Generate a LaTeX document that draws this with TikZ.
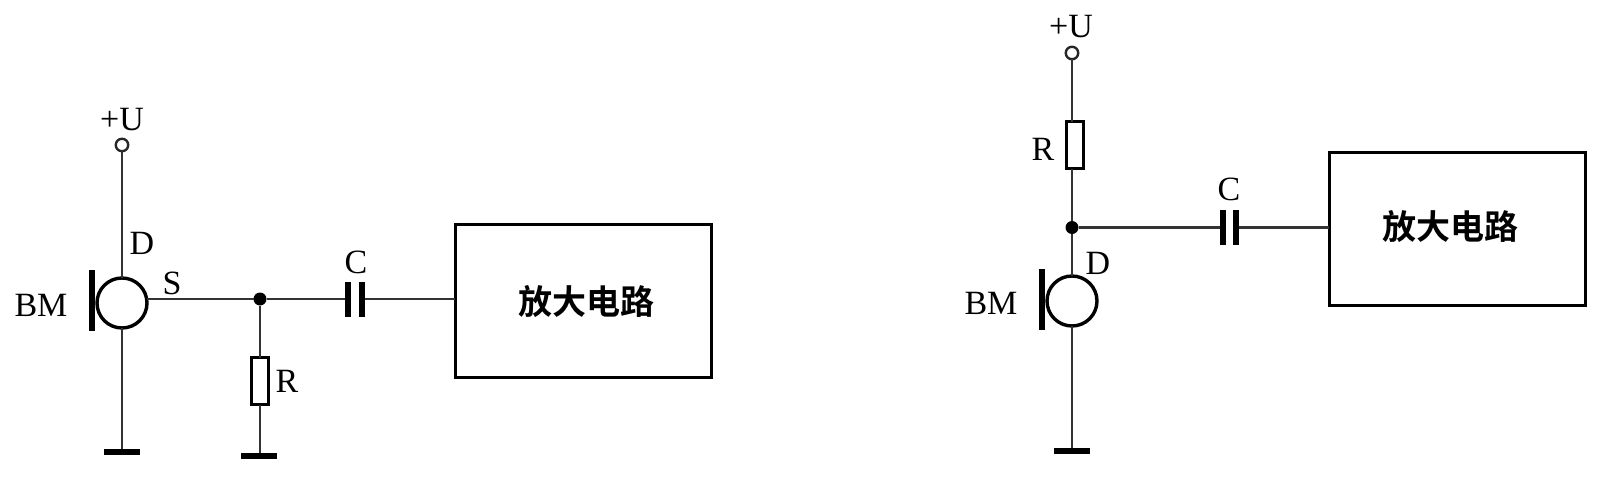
\documentclass[tikz,border=0pt]{standalone}
\usepackage{fontspec}
\setmainfont{Liberation Serif}
\newfontfamily\cjkfont{Noto Sans CJK SC}[BoldFont={Noto Sans CJK SC Bold}]
\tikzset{
  wire/.style={line width=2.4pt,draw=black!80},
  termnode/.style={circle,draw=black!85,line width=2.4pt,fill=white,minimum size=12.5pt,inner sep=0pt,outer sep=0pt},
  junction/.style={circle,fill=black,minimum size=13pt,inner sep=0pt,outer sep=0pt},
  micbody/.style={circle,draw=black,line width=3.4pt,minimum size=50pt,inner sep=0pt,outer sep=0pt},
  micbar/.style={rectangle,fill=black,minimum width=5.5pt,minimum height=61pt,inner sep=0pt,outer sep=0pt},
  gndbar/.style={rectangle,fill=black,minimum width=36pt,minimum height=6pt,inner sep=0pt,outer sep=0pt},
  capplate/.style={rectangle,fill=black,minimum width=5.5pt,minimum height=35pt,inner sep=0pt,outer sep=0pt},
  resbox/.style={rectangle,draw=black,line width=3pt,fill=white,minimum width=17pt,minimum height=47pt,inner sep=0pt,outer sep=0pt},
  ampbox/.style={rectangle,draw=black,line width=3pt,fill=white,minimum width=256pt,minimum height=153pt,inner sep=0pt,outer sep=0pt},
  lbl/.style={inner sep=0pt,outer sep=0pt,text=black,font=\fontsize{34}{34}\selectfont},
  amptext/.style={inner sep=0pt,outer sep=0pt,font=\cjkfont\bfseries\fontsize{34}{34}\selectfont}
}
\begin{document}
\begin{tikzpicture}[x=1pt,y=-1pt]
\useasboundingbox (0,0) rectangle (1610,490);
% left circuit
\node[termnode] (t1) at (122,145) {};
\node[micbody] (m1) at (122,303) {};
\node[micbar] (b1) at (92,300) {};
\node[gndbar] (g1) at (122,452) {};
\node[junction] (j1) at (260,299) {};
\node[resbox] (r1) at (260,381) {};
\node[gndbar] (g2) at (259,456) {};
\node[capplate] (c1a) at (348,299) {};
\node[capplate] (c1b) at (362,299) {};
\node[ampbox] (a1) at (583,301) {};
\draw[wire] (t1) -- (m1);
\draw[wire] (m1) -- (g1);
\draw[wire] (m1.east |- j1) -- (j1);
\draw[wire] (j1) -- (r1);
\draw[wire] (r1) -- (g2.north -| r1);
\draw[wire] (j1) -- (c1a);
\draw[wire] (c1b) -- (a1.west |- c1b);
\node[lbl] (u1) at (122,120) {+U};
\node[lbl] (d1) at (142,243) {D};
\node[lbl] (s1) at (172,283) {S};
\node[lbl] (bm1) at (41,305) {BM};
\node[lbl] (cl1) at (356,262) {C};
\node[lbl] (rl1) at (287,381) {R};
\node[amptext] (at1) at (586,302) {放大电路};
% right circuit
\node[termnode] (t2) at (1072,53) {};
\node[resbox] (r2) at (1075,145) {};
\node[junction] (j2) at (1072,227.5) {};
\node[micbody] (m2) at (1072,301) {};
\node[micbar] (b2) at (1042,299) {};
\node[gndbar] (g3) at (1072,451) {};
\node[capplate] (c2a) at (1223,227.5) {};
\node[capplate] (c2b) at (1236,227.5) {};
\node[ampbox] (a2) at (1457,228.5) {};
\draw[wire] (t2) -- (r2.north -| t2);
\draw[wire] (r2.south -| j2) -- (j2);
\draw[wire] (j2) -- (m2);
\draw[wire] (m2) -- (g3);
\draw[wire] (j2) -- (c2a);
\draw[wire] (c2b) -- (a2.west |- c2b);
\node[lbl] (u2) at (1071,27) {+U};
\node[lbl] (rl2) at (1043,149) {R};
\node[lbl] (cl2) at (1229,189) {C};
\node[lbl] (d2) at (1098,263) {D};
\node[lbl] (bm2) at (991,303) {BM};
\node[amptext] (at2) at (1450,227) {放大电路};
\end{tikzpicture}
\end{document}
